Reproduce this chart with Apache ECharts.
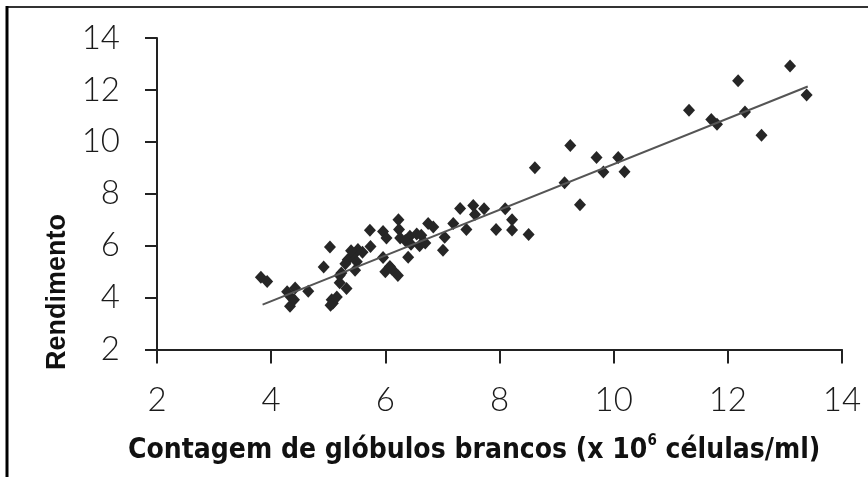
<!DOCTYPE html>
<html>
<head>
<meta charset="utf-8">
<script src="https://cdn.jsdelivr.net/npm/echarts@6/dist/echarts.min.js"></script>
<style>
  html, body { margin: 0; padding: 0; background: #fff; }
  #chart { width: 868px; height: 477px; }
</style>
</head>
<body>
<div id="chart"></div>
<script>
// contagem de glóbulos brancos (x 10^6 células/ml)
const wbcCount = [
  3.82, 3.93, 4.33, 4.42, 4.33, 4.40, 4.28, 4.65, 4.92, 5.03,
  5.06, 5.08, 5.15, 5.04, 5.20, 5.23, 5.32, 5.20, 5.34, 5.44,
  5.52, 5.50, 5.30, 5.40, 5.47, 5.73, 5.74, 5.96, 6.02, 5.96,
  6.08, 6.00, 6.12, 6.22, 6.23, 6.24, 6.26, 6.40, 6.43, 6.55,
  6.63, 6.60, 6.70, 6.35, 6.75, 6.84, 7.04, 7.01, 7.19, 7.31,
  7.42, 7.54, 7.57, 7.73, 7.94, 8.10, 8.22, 8.22, 8.51, 8.62,
  9.14, 9.24, 9.41, 9.70, 9.82, 10.08, 10.19, 11.32, 11.71, 11.81,
  12.18, 12.30, 12.59, 13.09, 13.38, 5.60, 6.45
]
// rendimento
const yieldValue = [
  4.78, 4.62, 4.05, 4.37, 3.67, 3.92, 4.22, 4.24, 5.18, 5.95,
  3.92, 3.78, 4.02, 3.70, 4.57, 4.95, 4.35, 4.85, 5.46, 5.65,
  5.85, 5.38, 5.30, 5.80, 5.05, 6.59, 5.97, 6.55, 6.30, 5.54,
  5.20, 5.00, 5.08, 4.85, 7.00, 6.62, 6.30, 5.55, 6.36, 6.45,
  6.40, 6.00, 6.10, 6.20, 6.85, 6.72, 6.32, 5.82, 6.85, 7.43,
  6.62, 7.55, 7.20, 7.42, 6.62, 7.42, 7.00, 6.60, 6.43, 9.00,
  8.42, 9.86, 7.58, 9.40, 8.84, 9.40, 8.85, 11.22, 10.86, 10.68,
  12.35, 11.15, 10.25, 12.92, 11.80, 5.75, 6.05
]
// linha de tendência (extremos)
const trendX = [3.85, 13.4]
const trendY = [3.73, 12.13]

const axisTicks = [2, 4, 6, 8, 10, 12, 14]

const chart = echarts.init(document.getElementById('chart'))

const labelFont = {
  fontFamily: 'Lato',
  fontWeight: 300,
  fontSize: 33,
  color: '#1a1a1a'
}

chart.setOption({
  backgroundColor: '#fff',
  animation: false,
  grid: { left: 157, right: 26, top: 38, bottom: 127.5 },
  xAxis: {
    type: 'value',
    min: axisTicks[0],
    max: axisTicks[axisTicks.length - 1],
    interval: 2,
    splitLine: { show: false },
    axisLine: { lineStyle: { color: '#222', width: 2 } },
    axisTick: { length: 14, lineStyle: { color: '#222', width: 2 } },
    axisLabel: Object.assign({ margin: 34 }, labelFont)
  },
  yAxis: {
    type: 'value',
    min: axisTicks[0],
    max: axisTicks[axisTicks.length - 1],
    interval: 2,
    splitLine: { show: false },
    axisLine: { show: true, lineStyle: { color: '#222', width: 2 } },
    axisTick: { show: true, length: 12, lineStyle: { color: '#222', width: 2 } },
    axisLabel: Object.assign({ margin: 37 }, labelFont)
  },
  series: [
    {
      type: 'scatter',
      symbol: 'diamond',
      symbolSize: [12, 13],
      itemStyle: { color: '#262626', opacity: 1 },
      data: wbcCount.map((x, i) => [x, yieldValue[i]]),
      z: 2
    },
    {
      type: 'line',
      symbol: 'none',
      lineStyle: { color: '#555', width: 2 },
      data: trendX.map((x, i) => [x, trendY[i]]),
      z: 3
    }
  ],
  graphic: [
    // moldura
    { type: 'line', shape: { x1: 7, y1: 7, x2: 868, y2: 7 }, style: { stroke: '#333', lineWidth: 2 } },
    { type: 'line', shape: { x1: 7, y1: 6, x2: 7, y2: 477 }, style: { stroke: '#000', lineWidth: 3 } },
    {
      type: 'text',
      left: 128,
      top: 434,
      style: {
        text: '{t|Contagem de glóbulos brancos (x 10}{s|6}{t| células/ml)}',
        rich: {
          t: { fontFamily: 'DejaVu Sans Condensed', fontWeight: 'bold', fontSize: 28, fill: '#111', lineHeight: 34 },
          s: { fontFamily: 'DejaVu Sans Condensed', fontWeight: 'bold', fontSize: 15, fill: '#111', verticalAlign: 'top', lineHeight: 34, padding: [0, 0, 14, 0] }
        }
      }
    },
    {
      type: 'text',
      x: 71,
      y: 370,
      rotation: Math.PI / 2,
      style: {
        text: 'Rendimento',
        fontFamily: 'Liberation Sans',
        fontWeight: 'bold',
        fontSize: 27,
        fill: '#111',
        align: 'left',
        verticalAlign: 'bottom'
      }
    }
  ]
})
</script>
</body>
</html>
